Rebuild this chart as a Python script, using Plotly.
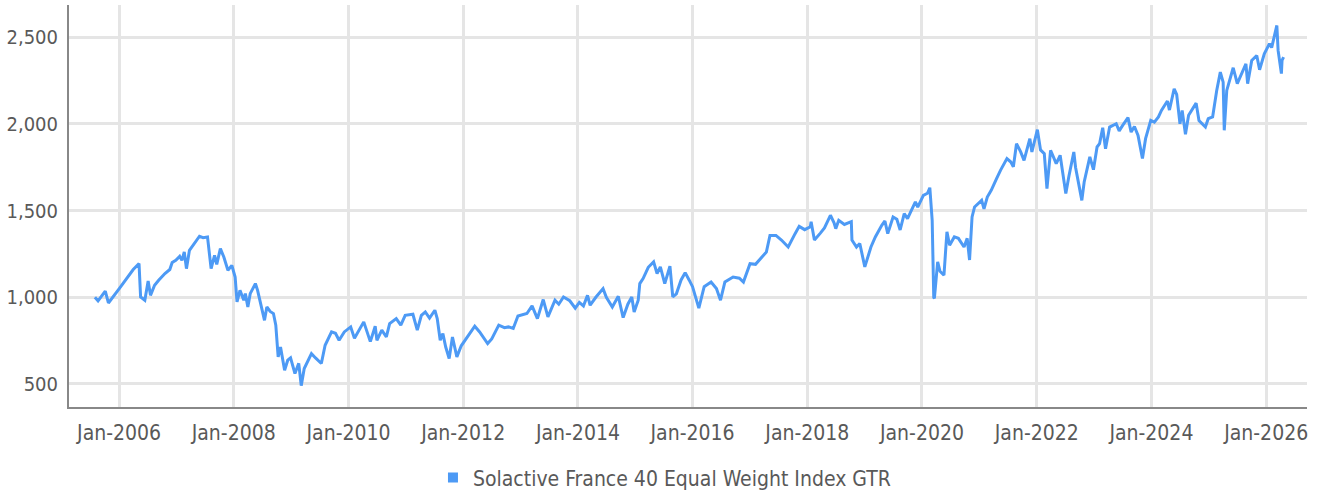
import plotly.graph_objects as go

dates = [
    "2005-07-31", "2005-08-20", "2005-10-05", "2005-10-25", "2006-01-02", "2006-02-20", "2006-04-01",
    "2006-05-08", "2006-05-18", "2006-06-14", "2006-07-05", "2006-07-20", "2006-08-15", "2006-09-10",
    "2006-10-20", "2006-11-20", "2006-12-05", "2006-12-28", "2007-01-22", "2007-02-05",
    "2007-02-20", "2007-03-06", "2007-03-25", "2007-05-28", "2007-06-20", "2007-07-18",
    "2007-08-10", "2007-09-01", "2007-09-15", "2007-10-08", "2007-10-30", "2007-11-25", "2007-12-20",
    "2008-01-10", "2008-01-22", "2008-02-10", "2008-03-05", "2008-03-15", "2008-03-31", "2008-04-15",
    "2008-05-18", "2008-06-01", "2008-07-15", "2008-07-30", "2008-08-20", "2008-09-10", "2008-09-25",
    "2008-10-10", "2008-10-25", "2008-11-20", "2008-12-10", "2008-12-28", "2009-01-25", "2009-02-18",
    "2009-03-06", "2009-03-25", "2009-05-10", "2009-06-05", "2009-07-12", "2009-08-05", "2009-09-15",
    "2009-10-10", "2009-11-02", "2009-12-05", "2010-01-15", "2010-02-08", "2010-04-08", "2010-05-20",
    "2010-06-20", "2010-07-01", "2010-08-01", "2010-08-30", "2010-09-20", "2010-11-01", "2010-11-30",
    "2010-12-28", "2011-02-15", "2011-03-15", "2011-04-10", "2011-05-05", "2011-06-01", "2011-07-05",
    "2011-07-20", "2011-08-08", "2011-08-25", "2011-09-12", "2011-10-04", "2011-10-25", "2011-11-22",
    "2011-12-20", "2012-01-22", "2012-03-15", "2012-04-15", "2012-05-08", "2012-06-05", "2012-07-01",
    "2012-08-15", "2012-09-20", "2012-10-15", "2012-11-15", "2012-12-15", "2013-02-10", "2013-03-15",
    "2013-04-18", "2013-05-25", "2013-06-24", "2013-08-08", "2013-09-01", "2013-10-01", "2013-11-10",
    "2013-12-15", "2014-01-10", "2014-02-05", "2014-03-03", "2014-03-20", "2014-04-25", "2014-06-10",
    "2014-07-01", "2014-08-08", "2014-09-15", "2014-10-16", "2014-11-15", "2014-12-10", "2014-12-25",
    "2015-01-20", "2015-01-30", "2015-02-20", "2015-03-25", "2015-04-28", "2015-05-20", "2015-06-10",
    "2015-07-08", "2015-08-10", "2015-08-28", "2015-09-20", "2015-10-20", "2015-11-15", "2015-12-10",
    "2016-01-01", "2016-02-10", "2016-03-15", "2016-04-28", "2016-06-01", "2016-06-27", "2016-07-25",
    "2016-09-15", "2016-10-25", "2016-11-20", "2017-01-01", "2017-02-05", "2017-03-15", "2017-04-15",
    "2017-05-08", "2017-06-15", "2017-07-20", "2017-09-01", "2017-10-15", "2017-11-10", "2017-12-15",
    "2018-01-20", "2018-01-25", "2018-02-15", "2018-03-25", "2018-04-20", "2018-05-28", "2018-06-20",
    "2018-07-01", "2018-07-20", "2018-08-25", "2018-10-08", "2018-10-12", "2018-11-10", "2018-12-01",
    "2019-01-02", "2019-02-10", "2019-03-10", "2019-04-20", "2019-05-10", "2019-05-28", "2019-07-01",
    "2019-07-25", "2019-08-15", "2019-09-10", "2019-10-01", "2019-11-20", "2019-12-05", "2020-01-10",
    "2020-02-05", "2020-02-20", "2020-03-06", "2020-03-16", "2020-03-20", "2020-04-10", "2020-04-25",
    "2020-05-20", "2020-06-08", "2020-06-25", "2020-07-25", "2020-08-20", "2020-09-25", "2020-10-15",
    "2020-10-30", "2020-11-15", "2020-12-01", "2021-01-15", "2021-01-30", "2021-02-20", "2021-03-17",
    "2021-04-20", "2021-05-15", "2021-06-25", "2021-07-20", "2021-08-05", "2021-08-25", "2021-09-20",
    "2021-10-12", "2021-11-18", "2021-12-01", "2022-01-05", "2022-01-25", "2022-02-18", "2022-03-07",
    "2022-03-30", "2022-05-05", "2022-05-30", "2022-06-15", "2022-07-05", "2022-07-25", "2022-08-25",
    "2022-09-05", "2022-10-15", "2022-10-30", "2022-12-05", "2022-12-28", "2023-01-20", "2023-02-05",
    "2023-02-25", "2023-03-15", "2023-04-10", "2023-05-22", "2023-06-10", "2023-07-01", "2023-08-05",
    "2023-08-25", "2023-09-15", "2023-10-08", "2023-11-05", "2023-11-25", "2023-12-28", "2024-01-20",
    "2024-02-15", "2024-03-05", "2024-04-12", "2024-04-25", "2024-05-25", "2024-06-10", "2024-07-01",
    "2024-07-15", "2024-08-05", "2024-08-25", "2024-10-12", "2024-10-30", "2024-12-10", "2024-12-28",
    "2025-01-25", "2025-02-20", "2025-03-15", "2025-04-02", "2025-04-09", "2025-04-25", "2025-06-05",
    "2025-07-01", "2025-08-05", "2025-08-25", "2025-09-05", "2025-10-01", "2025-11-02", "2025-11-20",
    "2025-12-20", "2026-01-22", "2026-02-05", "2026-03-10", "2026-03-18", "2026-04-08", "2026-04-12",
    "2026-04-22",
]

values = [
    1000, 979, 1036, 967, 1050, 1108, 1160,
    1194, 1002, 983, 1094, 1011, 1069, 1098,
    1137, 1160, 1200, 1213, 1236, 1213,
    1261, 1165, 1271, 1352, 1344, 1348,
    1165, 1242, 1190, 1281, 1232, 1156, 1184,
    1117, 973, 1040, 983, 1021, 944, 1021,
    1079, 1040, 867, 944, 918, 906, 839,
    656, 713, 579, 637, 650, 560, 619,
    490, 589, 675, 650, 618, 723, 800,
    792, 752, 800, 829, 763, 858, 744,
    833, 752, 810, 771, 848, 877, 839,
    896, 902, 810, 896, 915, 880, 925,
    877, 752, 790, 713, 647, 771, 656,
    720, 763, 833, 800, 771, 733, 760,
    839, 825, 829, 820, 892, 906, 950,
    877, 987, 887, 983, 960, 1002, 980,
    937, 970, 950, 1011, 954, 1000, 1050,
    1000, 944, 1006, 883, 960, 1002, 915,
    983, 1079, 1108, 1173, 1204, 1137, 1175,
    1079, 1179, 1002, 1020, 1100, 1142, 1100,
    1061, 937, 1061, 1088, 1050, 983, 1088,
    1117, 1110, 1088, 1194, 1190, 1232, 1261,
    1357, 1357, 1330, 1290, 1367, 1409, 1390,
    1407, 1436, 1330, 1370, 1400, 1473, 1430,
    1396, 1444, 1420, 1436, 1330, 1290, 1310,
    1175, 1290, 1348, 1415, 1440, 1367, 1463,
    1450, 1388, 1483, 1454, 1550, 1520, 1588,
    1600, 1632, 1444, 1000, 993, 1204, 1150,
    1127, 1378, 1300, 1348, 1340, 1290, 1340,
    1215, 1463, 1521, 1559, 1510, 1578, 1617,
    1684, 1732, 1800, 1780, 1752, 1886, 1840,
    1790, 1915, 1838, 1967, 1850, 1828, 1627,
    1848, 1771, 1819, 1713, 1598, 1700, 1838,
    1750, 1559, 1665, 1810, 1736, 1867, 1886,
    1978, 1857, 1982, 2001, 1960, 1990, 2036,
    1953, 1985, 1934, 1800, 1915, 2020, 2010,
    2040, 2078, 2132, 2080, 2203, 2170, 2001,
    2078, 1940, 2050, 2120, 2020, 1982, 2030,
    2040, 2193, 2299, 2241, 1963, 2193, 2324,
    2232, 2308, 2347, 2232, 2366, 2395, 2312,
    2405, 2463, 2440, 2568, 2424, 2290, 2366,
    2385,
]

series_name = "Solactive France 40 Equal Weight Index GTR"
y_ticks = [500, 1000, 1500, 2000, 2500]
y_tick_labels = ["500", "1,000", "1,500", "2,000", "2,500"]

LINE_COLOR = "#4d9af5"
TEXT_COLOR = "#595959"
FONT = "DejaVu Sans Condensed, Liberation Sans Narrow, Roboto, sans-serif"

fig = go.Figure()
fig.add_trace(go.Scatter(
    x=dates, y=values, mode="lines",
    line=dict(color=LINE_COLOR, width=3),
    name=series_name, showlegend=False,
))
fig.add_trace(go.Scatter(
    x=[None], y=[None], mode="markers",
    marker=dict(symbol="square", size=10, color=LINE_COLOR),
    name=series_name, showlegend=True,
))

fig.update_layout(
    width=1325, height=491,
    margin=dict(l=69, r=18, t=5, b=84, autoexpand=False),
    plot_bgcolor="white", paper_bgcolor="white",
    font=dict(family=FONT, size=20, color=TEXT_COLOR),
    showlegend=True,
    legend=dict(orientation="h", x=0.294, xanchor="left", y=-0.125, yanchor="top",
                itemwidth=30, font=dict(size=21, color=TEXT_COLOR)),
    xaxis=dict(
        type="date",
        range=["2005-02-16", "2026-09-18"],
        tick0="2006-01-01", dtick="M24", tickformat="%b-%Y",
        tickfont=dict(size=21, color=TEXT_COLOR),
        showgrid=True, gridcolor="#e5e5e5", gridwidth=2.5,
        showline=True, linecolor="#888888", linewidth=2,
        ticks="", ticklabelstandoff=6,
        zeroline=False, automargin=False,
    ),
    yaxis=dict(
        range=[367, 2686],
        tickvals=y_ticks, ticktext=y_tick_labels,
        tickfont=dict(size=20, color=TEXT_COLOR),
        showgrid=True, gridcolor="#e5e5e5", gridwidth=2.5,
        showline=True, linecolor="#888888", linewidth=2,
        ticks="", ticklabelstandoff=5,
        zeroline=False, automargin=False,
    ),
)

fig.write_html(
    "out.html",
    config={"displayModeBar": False},
    post_script="document.body.style.margin='0';document.body.style.overflow='hidden';",
)
